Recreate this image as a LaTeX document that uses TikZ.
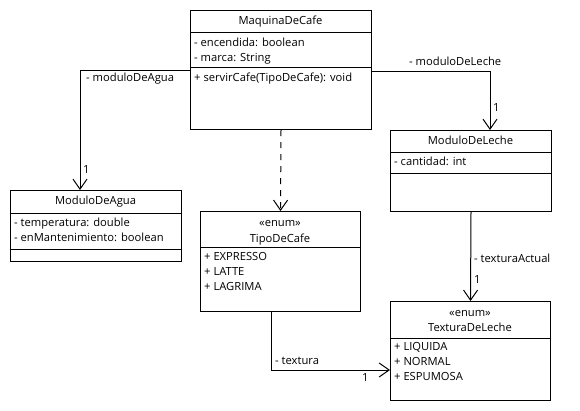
\documentclass[tikz,border=0pt]{standalone}
\usepackage{fontspec}
\setmainfont{Open Sans}
\usetikzlibrary{arrows.meta}
\begin{document}
\begin{tikzpicture}[x=1pt,y=-1pt,
  every node/.style={font=\fontsize{11.2}{13}\selectfont, inner sep=0pt, text height=8.5pt, text depth=2.5pt},
  classbox/.style={draw, line width=1pt, anchor=north west, rectangle},
  member/.style={anchor=west},
  title/.style={anchor=center},
  lbl/.style={anchor=west},
  assoc/.style={line width=1pt, -{Straight Barb[length=10pt,width=14pt,line width=1pt]}},
  dep/.style={assoc, dash pattern=on 6pt off 6pt}]
\useasboundingbox (0,0) rectangle (580,410);

% MaquinaDeCafe
\node[classbox, minimum width=181pt, minimum height=119pt] (maq) at (190,10) {};
\draw[line width=1pt] (190,32) -- (371,32) (190,67) -- (371,67);
\node[title] (maqT) at (280.5,21) {MaquinaDeCafe};
\node[member] (maqA1) at (194,43) {- encendida: boolean};
\node[member] (maqA2) at (194,58) {- marca: String};
\node[member] (maqM1) at (194,78) {+ servirCafe(TipoDeCafe): void};

% ModuloDeAgua
\node[classbox, minimum width=171pt, minimum height=71pt] (agua) at (10,190) {};
\draw[line width=1pt] (10,213) -- (181,213) (10,249) -- (181,249);
\node[title] (aguaT) at (95.5,201.5) {ModuloDeAgua};
\node[member] (aguaA1) at (14,223) {- temperatura: double};
\node[member] (aguaA2) at (14,238) {- enMantenimiento: boolean};

% ModuloDeLeche
\node[classbox, minimum width=161pt, minimum height=81pt] (leche) at (390,130) {};
\draw[line width=1pt] (390,152) -- (551,152) (390,173) -- (551,173);
\node[title] (lecheT) at (470.5,141) {ModuloDeLeche};
\node[member] (lecheA1) at (394,162.5) {- cantidad: int};

% TipoDeCafe
\node[classbox, minimum width=160pt, minimum height=100pt] (tipo) at (200,211) {};
\draw[line width=1pt] (200,247) -- (360,247);
\node[title] (tipoS) at (280,223) {«enum»};
\node[title] (tipoT) at (280,239) {TipoDeCafe};
\node[member] (tipoV1) at (204,257.5) {+ EXPRESSO};
\node[member] (tipoV2) at (204,272.5) {+ LATTE};
\node[member] (tipoV3) at (204,287.5) {+ LAGRIMA};

% TexturaDeLeche
\node[classbox, minimum width=160pt, minimum height=99pt] (text) at (390,301) {};
\draw[line width=1pt] (390,338) -- (550,338);
\node[title] (textS) at (470,313) {«enum»};
\node[title] (textT) at (470,328.5) {TexturaDeLeche};
\node[member] (textV1) at (394,347.5) {+ LIQUIDA};
\node[member] (textV2) at (394,362.5) {+ NORMAL};
\node[member] (textV3) at (394,377.5) {+ ESPUMOSA};

% Relations
\draw[assoc] (maq.west |- 0,70) -| (agua.north -| 80,0);
\node[lbl] (lAgua) at (86,78) {- moduloDeAgua};
\node[lbl] (mAgua) at (83,170) {1};

\draw[assoc] (maq.east |- 0,71) -| (leche.north -| 490,0);
\node[lbl] (lLeche) at (409,62) {- moduloDeLeche};
\node[lbl] (mLeche) at (493,108) {1};

\draw[dep] (maq.south) -- (tipo.north);

\draw[assoc] (leche.south) -- (text.north);
\node[lbl] (lTA) at (474,259) {- texturaActual};
\node[lbl] (mTA) at (474,280) {1};

\draw[assoc] (tipo.south -| 271,0) |- (text.west |- 0,370);
\node[lbl] (lTx) at (275,361) {- textura};
\node[lbl] (mTx) at (362,378) {1};
\end{tikzpicture}
\end{document}
